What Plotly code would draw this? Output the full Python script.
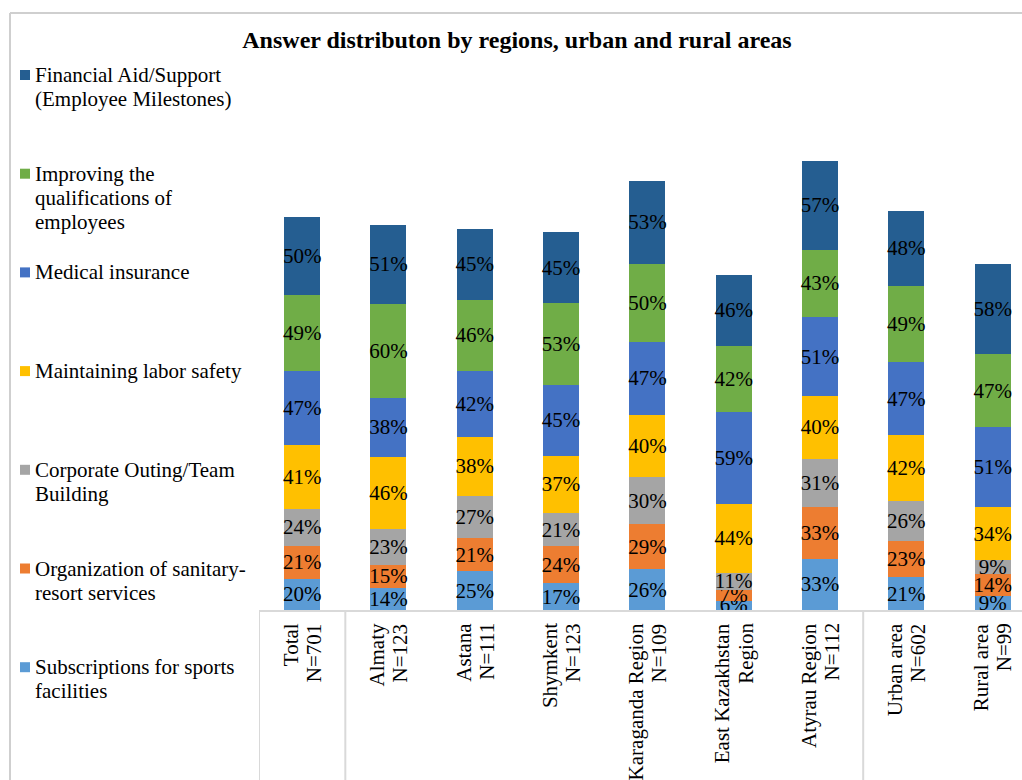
import plotly.graph_objects as go

# ---------------- data ----------------
categories = ["Total", "Almaty", "Astana", "Shymkent", "Karaganda Region",
              "East Kazakhstan Region", "Atyrau Region", "Urban area", "Rural area"]
category_labels = [["Total", "N=701"], ["Almaty", "N=123"], ["Astana", "N=111"], ["Shymkent", "N=123"],
                   ["Karaganda Region", "N=109"], ["East Kazakhstan", "Region"], ["Atyrau Region", "N=112"],
                   ["Urban area", "N=602"], ["Rural area", "N=99"]]

series_names = [
    "Subscriptions for sports facilities",
    "Organization of sanitary-resort services",
    "Corporate Outing/Team Building",
    "Maintaining labor safety",
    "Medical insurance",
    "Improving the qualifications of employees",
    "Financial Aid/Support (Employee Milestones)",
]
legend_lines = [
    ["Subscriptions for sports", "facilities"],
    ["Organization of sanitary-", "resort services"],
    ["Corporate Outing/Team", "Building"],
    ["Maintaining labor safety"],
    ["Medical insurance"],
    ["Improving the", "qualifications of", "employees"],
    ["Financial Aid/Support", "(Employee Milestones)"],
]
subscriptions = [20, 14, 25, 17, 26, 6, 33, 21, 9]
sanitary = [21, 15, 21, 24, 29, 7, 33, 23, 14]
corporate = [24, 23, 27, 21, 30, 11, 31, 26, 9]
labor_safety = [41, 46, 38, 37, 40, 44, 40, 42, 34]
medical = [47, 38, 42, 45, 47, 59, 51, 47, 51]
qualifications = [49, 60, 46, 53, 50, 42, 43, 49, 47]
financial = [50, 51, 45, 45, 53, 46, 57, 48, 58]
series_values = [subscriptions, sanitary, corporate, labor_safety, medical, qualifications, financial]
colors = ["#5B9BD5", "#ED7D31", "#A5A5A5", "#FFC000", "#4472C4", "#70AD47", "#255E91"]

# ---------------- layout geometry ----------------
W, H = 1022, 780
L, R, T, B = 259, 0, 142, 170
PW, PH = W - L - R, H - T - B
FONT = "Liberation Serif"
FS = 21


def px_x(px):
    return (px - L) / PW


def px_y(py):
    return (H - B - py) / PH


fig = go.Figure()
for name, vals, col in zip(series_names, series_values, colors):
    fig.add_trace(go.Bar(
        x=categories, y=vals, name=name, marker=dict(color=col, line=dict(width=0)),
        width=0.417, text=[f"{v}%" for v in vals], texttemplate="%{text}",
        textposition="inside", insidetextanchor="middle", textangle=0,
        textfont=dict(family=FONT, size=FS, color="#000000"),
        showlegend=False, cliponaxis=False,
    ))

annotations = []
# category labels (rotated, lines centred on each other, block top-aligned)
for cat, lines in zip(categories, category_labels):
    n = len(lines)
    for j, line in enumerate(lines):
        annotations.append(dict(
            x=cat, xref="x", y=px_y(621), yref="paper", text=line, textangle=-90,
            xshift=(j - (n - 1) / 2) * 23,
            showarrow=False, xanchor="center", yanchor="top", align="center",
            font=dict(family=FONT, size=FS, color="#000000"),
        ))

# manual legend (top item = last series)
shapes = []
for i, idx in enumerate(reversed(range(len(series_names)))):
    y0 = 75 + 98.7 * i
    shapes.append(dict(type="rect", xref="paper", yref="paper",
                       x0=px_x(20), x1=px_x(30), y0=px_y(y0 - 5), y1=px_y(y0 + 5),
                       fillcolor=colors[idx], line=dict(width=0)))
    for j, line in enumerate(legend_lines[idx]):
        annotations.append(dict(
            x=px_x(33), xref="paper", y=px_y(y0 + 24 * j), yref="paper", text=line,
            showarrow=False, xanchor="left", yanchor="middle",
            font=dict(family=FONT, size=FS, color="#000000"),
        ))

# separators in category label area
for xs in [-0.5, 0.5, 6.5]:
    shapes.append(dict(type="line", xref="x", yref="paper", x0=xs, x1=xs,
                       y0=0, y1=px_y(H), line=dict(color="#D9D9D9", width=2)))

# outer chart border (left and top)
shapes.append(dict(type="line", xref="paper", yref="paper", x0=px_x(10), x1=px_x(10),
                   y0=px_y(13), y1=px_y(H), line=dict(color="#CFCFCF", width=2)))
shapes.append(dict(type="line", xref="paper", yref="paper", x0=px_x(10), x1=px_x(W),
                   y0=px_y(13), y1=px_y(13), line=dict(color="#CFCFCF", width=2)))

fig.update_layout(
    width=W, height=H, barmode="stack",
    margin=dict(l=L, r=R, t=T, b=B, pad=0),
    paper_bgcolor="white", plot_bgcolor="white",
    title=dict(text="<b>Answer distributon by regions, urban and rural areas</b>",
               x=517 / W, xanchor="center", y=1 - 40 / H, yanchor="middle",
               font=dict(family=FONT, size=24, color="#000000")),
    xaxis=dict(range=[-0.5, 8.34], showticklabels=False, ticks="", showgrid=False,
               showline=True, linecolor="#D9D9D9", linewidth=2, zeroline=False, fixedrange=True),
    yaxis=dict(range=[0, 300], visible=False, showgrid=False, zeroline=False),
    uniformtext=dict(minsize=FS, mode="show"),
    annotations=annotations, shapes=shapes,
)

fig.write_html("out.html")
